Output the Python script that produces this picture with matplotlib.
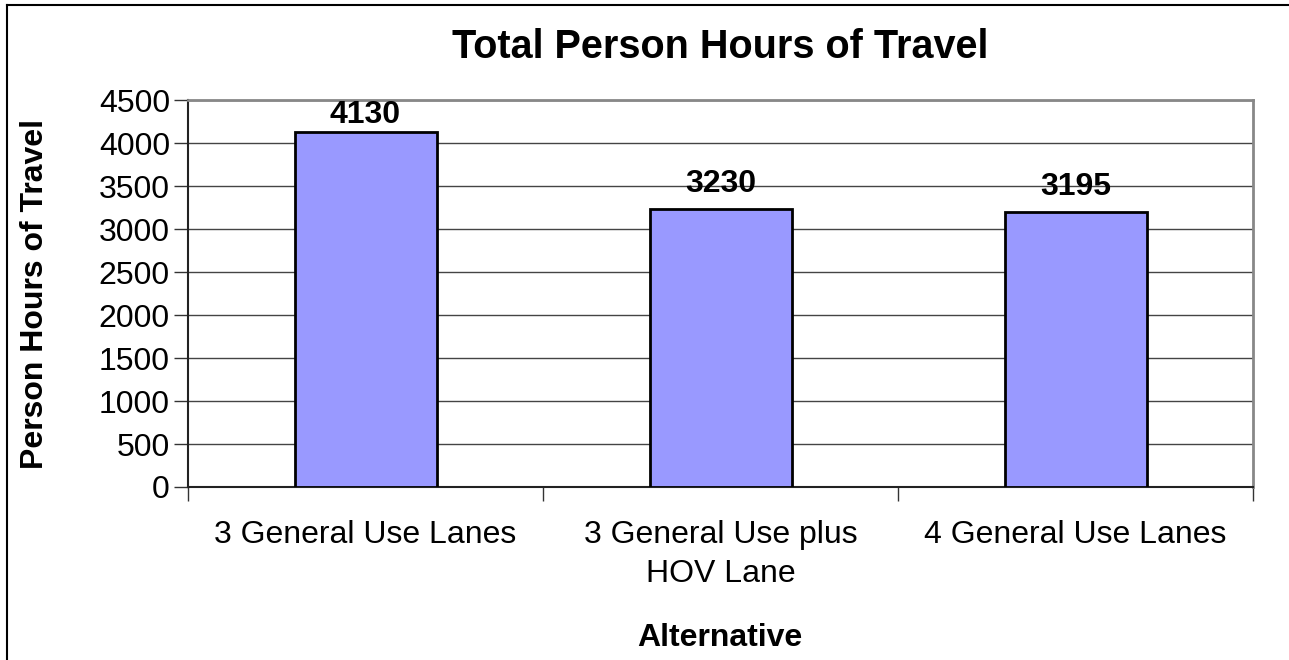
import matplotlib
matplotlib.use("Agg")
import matplotlib.pyplot as plt
from matplotlib.lines import Line2D

categories = ["3 General Use Lanes", "3 General Use plus\nHOV Lane", "4 General Use Lanes"]
values = [4130, 3230, 3195]
yticks = [0, 500, 1000, 1500, 2000, 2500, 3000, 3500, 4000, 4500]

plt.rcParams['font.family'] = ['Liberation Sans', 'DejaVu Sans']

W, H = 1289, 660
ax_l, ax_r, ax_t, ax_b = 188, 1253, 100, 487
fig = plt.figure(figsize=(W/100, H/100), dpi=100)
ax = fig.add_axes([ax_l/W, 1-ax_b/H, (ax_r-ax_l)/W, (ax_b-ax_t)/H])

x = list(range(len(categories)))
ax.bar(x, values, width=0.4, color='#9999FF', edgecolor='black', linewidth=2, zorder=3)
ax.set_xlim(-0.5, len(categories)-0.5)
ax.set_ylim(0, 4500)
ax.set_yticks(yticks)
ax.set_yticklabels([str(v) for v in yticks], fontsize=23)
ax.yaxis.grid(True, color='#444444', linewidth=1, zorder=0)
ax.set_axisbelow(True)

ax.set_xticks([-0.5, 0.5, 1.5, 2.5])
ax.set_xticklabels([])
ax.tick_params(axis='x', length=10, width=1, color='#333333', direction='out')
ax.tick_params(axis='y', length=10, width=1, color='#333333', direction='out', pad=3)
for i, c in enumerate(categories):
    ax.text(i, -(520-ax_b)/(ax_b-ax_t), c, transform=ax.get_xaxis_transform(),
            ha='center', va='top', fontsize=23, linespacing=1.37)

px = 4500/(ax_b-ax_t)
for i, v in enumerate(values):
    y = min(v + 25*px, 4500 - 15*px)
    ax.text(i, y, str(v), ha='center', va='center', fontsize=23, fontweight='bold')

for s in ['top', 'right']:
    ax.spines[s].set_color('#888888')
    ax.spines[s].set_linewidth(2)
for s in ['left', 'bottom']:
    ax.spines[s].set_color('#222222')
    ax.spines[s].set_linewidth(1.5)

fig.text(720/W, 1-47/H, "Total Person Hours of Travel", ha='center', va='center',
         fontsize=28.5, fontweight='bold')
fig.text(35/W, 1-294/H, "Person Hours of Travel", ha='center', va='center',
         rotation=90, fontsize=23, fontweight='bold')
fig.text(720/W, 1-638/H, "Alternative", ha='center', va='center',
         fontsize=23, fontweight='bold')

fig.add_artist(Line2D([6.5/W, 6.5/W], [0, 1-5/H], color='black', linewidth=1.5, transform=fig.transFigure))
fig.add_artist(Line2D([6.5/W, 1], [1-5/H, 1-5/H], color='black', linewidth=1.5, transform=fig.transFigure))

fig.savefig("out.png", dpi=100)
